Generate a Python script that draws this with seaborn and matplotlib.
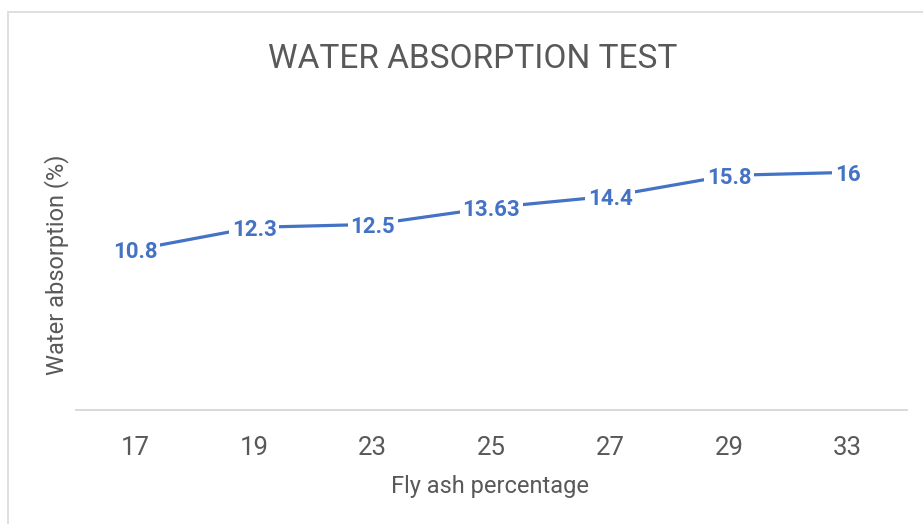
import matplotlib
matplotlib.use("Agg")
import matplotlib.pyplot as plt
import seaborn as sns
import pandas as pd
from matplotlib.patches import Rectangle

# Data
fly_ash = ["17", "19", "23", "25", "27", "29", "33"]
absorption = [10.8, 12.3, 12.5, 13.63, 14.4, 15.8, 16]
labels = ["10.8", "12.3", "12.5", "13.63", "14.4", "15.8", "16"]

title = "WATER ABSORPTION TEST"
xlabel = "Fly ash percentage"
ylabel = "Water absorption (%)"

sns.set_theme(style="white")
FONT = ["Roboto", "DejaVu Sans"]
plt.rcParams["font.family"] = FONT

LINE_C = "#4472C4"
TEXT_C = "#595959"
GRID_C = "#D9D9D9"

df = pd.DataFrame({"fly": pd.Categorical(fly_ash, categories=fly_ash, ordered=True),
                   "val": absorption})

fig = plt.figure(figsize=(9.23, 5.24), dpi=100)
fig.patch.set_facecolor("white")

# chart border (extends beyond right/bottom edge)
fig.patches.append(Rectangle((8 / 923, -0.1), 1.2, (524 - 12) / 524 + 0.1,
                             transform=fig.transFigure, fill=False,
                             edgecolor=GRID_C, linewidth=1.2, zorder=0))

ax = fig.add_axes([76 / 923, (524 - 410) / 524, 831 / 923, 297 / 524])
ax.set_facecolor("none")

sns.lineplot(data=df, x="fly", y="val", ax=ax, color=LINE_C, linewidth=2.3,
             sort=False, zorder=2)

ax.set_xlim(-0.5, len(fly_ash) - 0.5)
ax.set_ylim(0, 20)

for i, (v, lab) in enumerate(zip(absorption, labels)):
    ax.text(i, v, lab, ha="center", va="center_baseline", color=LINE_C,
            fontsize=16, fontweight="bold", zorder=3,
            bbox=dict(boxstyle="square,pad=0.12", facecolor="white",
                      edgecolor="none"))

for s in ["top", "right", "left"]:
    ax.spines[s].set_visible(False)
ax.spines["bottom"].set_color(GRID_C)
ax.spines["bottom"].set_linewidth(1.4)
ax.set_yticks([])
ax.tick_params(axis="x", length=0, pad=19, labelsize=18.5, labelcolor=TEXT_C)

ax.set_xlabel(xlabel, fontsize=17, color=TEXT_C)
ax.xaxis.set_label_coords((490 - 76) / 831, (410 - 486) / 297)
ax.xaxis.label.set_va("center")
ax.set_ylabel(ylabel, fontsize=17, color=TEXT_C)
ax.yaxis.set_label_coords((57 - 76) / 831, (410 - 265) / 297)
ax.yaxis.label.set_va("center")

fig.text(473 / 923, (524 - 68) / 524, title, ha="center", va="baseline",
         fontsize=24, color=TEXT_C)

fig.savefig("out.png", dpi=100, facecolor="white")
